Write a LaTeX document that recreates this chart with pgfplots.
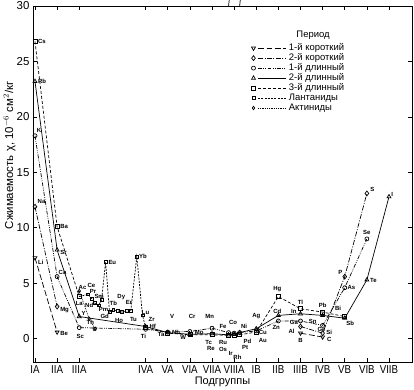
\documentclass[border=0pt]{standalone}
\usepackage{fontspec}
\setmainfont{Liberation Sans}
\usepackage{graphicx}
\usepackage{pgfplots}
\pgfplotsset{compat=1.18}
\usepackage{pgfplotstable}

\newcommand{\cx}[1]{\scalebox{0.85}[1]{#1}}

\tikzset{
 base/.style={black, line width=0.7pt},
 ptwo/.style={base, dash pattern=on 6pt off 2.5pt, mark=triangle, mark size=2.3pt, mark options={solid, fill=white, rotate=180}},
 pthree/.style={base, dash pattern=on 5pt off 1.5pt on 1pt off 1.5pt, mark=diamond, mark size=2.5pt, mark options={solid, fill=white}},
 pfour/.style={base, dash pattern=on 4pt off 1.3pt on 0.8pt off 1.3pt on 0.8pt off 1.3pt, mark=o, mark size=2pt, mark options={solid, fill=white}},
 pfive/.style={base, solid, mark=triangle, mark size=2.3pt, mark options={solid, fill=white}},
 psix/.style={base, dash pattern=on 3pt off 2pt, mark=square, mark size=2pt, mark options={solid, fill=white}},
 plan/.style={base, dash pattern=on 2pt off 1.3pt, mark=square, mark size=1.4pt, mark options={solid, fill=white}},
 pact/.style={base, dash pattern=on 0.8pt off 1pt, mark=diamond, mark size=1.7pt, mark options={solid, fill=white}},
 el/.style={font=\fontsize{6}{6}\selectfont\bfseries, inner sep=0.3pt},
}

\pgfplotstableread{
x y
0 7.3
1 0.6
nan nan
12 0.5
13 0.15
}\tabtwo
\pgfplotstableread{
x y
0 11.9
1 2.9
nan nan
12 1.1
13 0.5
14 5.6
15 13.1
}\tabthree
\pgfplotstableread{
x y
0 18.3
1 5.6
2 1.0
5 0.85
6 0.6
7 0.65
8 0.95
8.75 0.55
9 0.5
9.25 0.55
10 0.7
11 1.6
12 1.6
13 1.2
14 4.6
15 9.0
}\tabfour
\pgfplotstableread{
x y
0 23.2
1 8.0
2 2.0
5 1.1
6 0.55
7 0.4
8 0.45
8.75 0.35
9 0.4
9.25 0.55
10 0.9
11 2.1
12 2.25
13 2.1
14 1.85
15 5.3
16 12.8
}\tabfive
\pgfplotstableread{
x y
0 26.8
1 10.1
2 3.8
nan nan
5 1.0
6 0.5
7 0.35
8 0.35
8.75 0.3
9 0.3
9.25 0.35
10 0.6
11 3.8
12 2.7
13 2.4
14 2.0
}\tabsix
\pgfplotstableread{
x y
2 3.8
2.40 4.0
2.57 3.6
2.70 3.2
2.88 3.0
3.01 3.5
3.19 6.9
3.37 2.4
3.54 2.6
3.76 2.5
3.94 2.4
4.16 2.5
4.33 2.5
4.60 7.4
4.86 2.1
5 1.0
}\tablan
\pgfplotstableread{
x y
2 4.3
2.45 1.8
2.72 0.9
}\tabact

\begin{document}
\begin{tikzpicture}
\path[use as bounding box] (-33bp,-28bp) rectangle (381bp,362bp);
\begin{axis}[
  at={(0,0)}, anchor=south west,
  scale only axis, width=379bp, height=356bp,
  xmin=-0.09, xmax=17.04, ymin=-2.1, ymax=30,
  clip=false, unbounded coords=jump,
  axis line style={black, line width=0.8pt},
  tick align=inside, major tick length=4bp,
  tick style={black, line width=0.7pt},
  xtick={0,1,2,5,6,7,8,9,10,11,12,13,14,15,16},
  xticklabels={\cx{IA},\cx{IIA},\cx{IIIA},\cx{IVA},\cx{VA},\cx{VIA},\cx{VIIA},\cx{VIIIA},\cx{IB},\cx{IIB},\cx{IIIB},\cx{IVB},\cx{VB},\cx{VIB},\cx{VIIB}},
  ytick={0,5,10,15,20,25,30},
  /pgf/number format/assume math mode=true,
  tick label style={font=\fontsize{11.5}{12}\selectfont},
  xlabel={Подгруппы},
  xlabel style={font=\fontsize{11}{12}\selectfont, at={(axis description cs:0.5,-0.055)}, anchor=center},
  ylabel={Сжимаемость χ, 10$^{-6}$ см$^{2}$/кг},
  ylabel style={font=\fontsize{11.5}{12}\selectfont, at={(axis description cs:-0.062,0.58)}, anchor=center},
  legend style={draw=none, fill=none, inner sep=0pt, at={(axis description cs:0.576,0.896)}, anchor=north west,
    font=\fontsize{9.5}{10}\selectfont, row sep=0pt, column sep=2pt,
    nodes={inner sep=0.5pt, text height=7pt, text depth=2pt}},
  legend cell align=left,
  legend image code/.code={
    \draw[#1, mark=none] (0.16cm,0cm) -- (1.15cm,0cm);
    \draw[#1] plot coordinates {(0cm,0cm)};
  },
]
\addlegendimage{ptwo}\addlegendentry{1-й короткий}
\addlegendimage{pthree}\addlegendentry{2-й короткий}
\addlegendimage{pfour}\addlegendentry{1-й длинный}
\addlegendimage{pfive}\addlegendentry{2-й длинный}
\addlegendimage{psix}\addlegendentry{3-й длинный}
\addlegendimage{plan}\addlegendentry{Лантаниды}
\addlegendimage{pact}\addlegendentry{Актиниды}

\addplot[plan, mark=none, forget plot] table[x=x,y=y] {\tablan};
\addplot[plan, only marks, restrict x to domain=2.1:4.95, forget plot] table[x=x,y=y] {\tablan};
\addplot[pact, forget plot] table[x=x,y=y] {\tabact};
\addplot[ptwo, forget plot] table[x=x,y=y] {\tabtwo};
\addplot[pthree, forget plot] table[x=x,y=y] {\tabthree};
\addplot[pfour, forget plot] table[x=x,y=y] {\tabfour};
\addplot[psix, forget plot] table[x=x,y=y] {\tabsix};
\addplot[pfive, forget plot] table[x=x,y=y] {\tabfive};

\node[font=\fontsize{9.5}{10}\selectfont] at (axis description cs:0.739,0.918) {Период};

% top triad ticks at VIIIA
\draw[line width=0.7pt] (axis cs:8.75,30) -- ++(0,-4bp);
\draw[line width=0.7pt] (axis cs:9.25,30) -- ++(0,-4bp);

% element labels
\node[el, anchor=west] at (axis cs:0.12,26.8) {Cs};
\node[el, anchor=west] at (axis cs:0.12,23.2) {Rb};
\node[el, anchor=west] at (axis cs:0.06,18.8) {K};
\node[el, anchor=west] at (axis cs:0.1,12.4) {Na};
\node[el, anchor=west] at (axis cs:0.12,6.9) {Li};
\node[el, anchor=west] at (axis cs:1.12,10.1) {Ba};
\node[el, anchor=west] at (axis cs:1.12,7.8) {Sr};
\node[el, anchor=south west] at (axis cs:1.05,5.7) {Ca};
\node[el, anchor=west] at (axis cs:1.12,2.6) {Mg};
\node[el, anchor=west] at (axis cs:1.12,0.5) {Be};
\node[el] at (axis cs:2.0,3.2) {La};
\node[el] at (axis cs:2.15,4.65) {Ac};
\node[el] at (axis cs:2.2,2.3) {Y};
\node[el] at (axis cs:2.05,0.2) {Sc};
\node[el] at (axis cs:2.5,1.45) {Th};
\node[el] at (axis cs:2.7,0.85) {U};
\node[el] at (axis cs:2.55,4.8) {Ce};
\node[el] at (axis cs:2.62,4.25) {Pr};
\node[el] at (axis cs:2.9,3.85) {Sm};
\node[el] at (axis cs:2.45,3.0) {Nd};
\node[el] at (axis cs:3.1,2.6) {Pm};
\node[el, anchor=west] at (axis cs:3.3,6.9) {Eu};
\node[el] at (axis cs:3.15,2.05) {Gd};
\node[el] at (axis cs:3.54,3.2) {Tb};
\node[el] at (axis cs:3.9,3.75) {Dy};
\node[el] at (axis cs:3.8,1.6) {Ho};
\node[el] at (axis cs:4.25,3.25) {Er};
\node[el] at (axis cs:4.45,1.7) {Tu};
\node[el, anchor=west] at (axis cs:4.68,7.45) {Yb};
\node[el] at (axis cs:5.0,2.4) {Lu};
\node[el] at (axis cs:5.27,1.75) {Zr};
\node[el] at (axis cs:5.32,1.15) {Hf};
\node[el] at (axis cs:4.9,0.2) {Ti};
\node[el] at (axis cs:6.2,2.0) {V};
\node[el] at (axis cs:5.7,0.35) {Ta};
\node[el] at (axis cs:6.38,0.55) {Nb};
\node[el] at (axis cs:7.1,2.0) {Cr};
\node[el] at (axis cs:6.7,0.1) {W};
\node[el] at (axis cs:7.42,0.55) {Mo};
\node[el] at (axis cs:7.9,2.0) {Mn};
\node[el] at (axis cs:7.85,-0.35) {Tc};
\node[el] at (axis cs:7.95,-0.9) {Re};
\node[el] at (axis cs:8.5,1.1) {Fe};
\node[el] at (axis cs:8.95,1.5) {Co};
\node[el] at (axis cs:9.45,1.1) {Ni};
\node[el] at (axis cs:8.5,-0.35) {Ru};
\node[el] at (axis cs:8.5,-1.0) {Os};
\node[el] at (axis cs:8.85,-1.3) {Ir};
\node[el] at (axis cs:9.15,-1.65) {Rh};
\node[el] at (axis cs:9.5,-0.8) {Pt};
\node[el] at (axis cs:9.6,-0.27) {Pd};
\node[el] at (axis cs:10.0,2.0) {Ag};
\node[el] at (axis cs:10.3,0.55) {Cu};
\node[el] at (axis cs:10.3,-0.2) {Au};
\node[el] at (axis cs:10.95,4.5) {Hg};
\node[el] at (axis cs:10.95,2.5) {Cd};
\node[el] at (axis cs:10.9,1.0) {Zn};
\node[el] at (axis cs:12.0,3.25) {Tl};
\node[el] at (axis cs:11.7,2.5) {In};
\node[el] at (axis cs:11.7,1.5) {Ga};
\node[el] at (axis cs:11.6,0.7) {Al};
\node[el] at (axis cs:12.0,-0.2) {B};
\node[el] at (axis cs:13.0,3.05) {Pb};
\node[el] at (axis cs:12.55,1.55) {Sn};
\node[el] at (axis cs:12.95,0.8) {Ge};
\node[el] at (axis cs:13.3,0.6) {Si};
\node[el] at (axis cs:13.3,-0.1) {C};
\node[el] at (axis cs:13.7,2.7) {Bi};
\node[el] at (axis cs:14.25,1.4) {Sb};
\node[el] at (axis cs:13.8,5.95) {P};
\node[el] at (axis cs:14.3,4.6) {As};
\node[el] at (axis cs:15.0,9.6) {Se};
\node[el] at (axis cs:15.25,13.45) {S};
\node[el] at (axis cs:15.3,5.25) {Te};
\node[el] at (axis cs:16.15,13.0) {I};
\end{axis}
\end{tikzpicture}
\end{document}
